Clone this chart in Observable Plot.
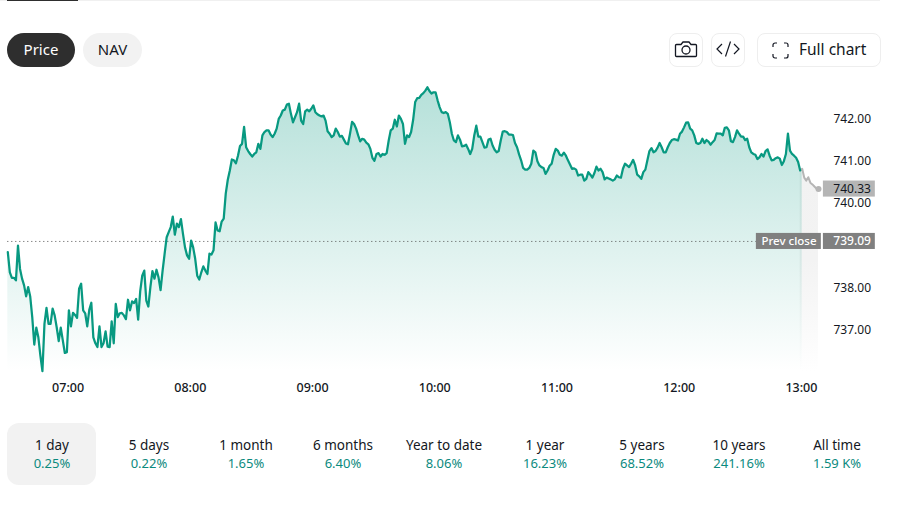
<!DOCTYPE html>
<html>
<head>
<meta charset="utf-8">
<script src="https://cdn.jsdelivr.net/npm/d3@7"></script>
<script src="https://cdn.jsdelivr.net/npm/@observablehq/plot@0.6"></script>
<style>
html,body{margin:0;padding:0;background:#fff;width:900px;height:510px;overflow:hidden}
body{position:relative;font-family:"Noto Sans",sans-serif;color:#131722}
#chart{position:absolute;left:0;top:70px}
#chart svg{display:block}
.abs{position:absolute;box-sizing:border-box}
.pill{top:33px;height:34px;border-radius:17px;display:flex;align-items:center;justify-content:center;font-size:15px;padding-bottom:2px}
.btn{top:33px;height:34px;border:1px solid #eeeeee;border-radius:8px;display:flex;align-items:center;justify-content:center;font-size:15.5px;padding-bottom:2px}
.cell{top:436px;width:110px;text-align:center;font-size:13.5px;line-height:18px}
.cell .ret{color:#0b8a7e;font-size:13px}
</style>
</head>
<body>
<div class="abs" style="left:0;top:0;width:880px;height:1px;background:#f0f0f0"></div>
<div class="abs" style="left:7px;top:0;width:71px;height:1px;background:#2e2e2e"></div>
<div class="abs pill" style="left:7px;width:68px;background:#2e2e2e;color:#fff">Price</div>
<div class="abs pill" style="left:83px;width:59px;background:#f2f2f2">NAV</div>
<div class="abs btn" style="left:669px;width:34px"><svg width="24" height="20" viewBox="0 0 24 20" fill="none" stroke="#131722" stroke-width="1.3"><path d="M2.5 5.5h4.5l2-2.5h6l2 2.5h4.5a1 1 0 0 1 1 1v10a1 1 0 0 1-1 1h-19a1 1 0 0 1-1-1v-10a1 1 0 0 1 1-1z"/><circle cx="12" cy="11" r="4"/></svg></div>
<div class="abs btn" style="left:711px;width:34px"><svg width="26" height="20" viewBox="0 0 26 20" fill="none" stroke="#131722" stroke-width="1.2"><path d="M7 5l-5 5 5 5M19 5l5 5-5 5M15.5 2.5l-5 15"/></svg></div>
<div class="abs btn" style="left:757px;width:124px"><svg style="position:absolute;left:14px;top:8px" width="17" height="17" viewBox="0 0 17 17" fill="none" stroke="#131722" stroke-width="1.2"><path d="M1 5V3a2 2 0 0 1 2-2h2M12 1h2a2 2 0 0 1 2 2v2M16 12v2a2 2 0 0 1-2 2h-2M5 16H3a2 2 0 0 1-2-2v-2"/></svg><span style="position:absolute;left:41px">Full chart</span></div>
<div class="abs" style="left:7px;top:423px;width:89px;height:62px;background:#f2f2f2;border-radius:12px"></div>
<div id="chart"></div>
<div id="periods"></div>
<script>
const periods = ["1 day","5 days","1 month","6 months","Year to date","1 year","5 years","10 years","All time"];
const returns = ["0.25%","0.22%","1.65%","6.40%","8.06%","16.23%","68.52%","241.16%","1.59 K%"];
const periodCenters = [52,149,246,343,444,545,642,739,837];
const hourLabels = ["07:00","08:00","09:00","10:00","11:00","12:00","13:00"];
const priceTicks = [737,738,740,741,742];
const prevClose = 739.09;
const lastPrice = 740.33;
// one price per minute from 06:30
const prices = [
738.84,738.36,738.23,738.23,738.17,738.99,738.44,738.21,738.05,737.79,738.01,737.79,737.30,736.65,737.05,736.82,736.39,736.02,737.14,737.52,
737.14,737.14,737.50,737.34,737.06,736.73,737.05,736.75,736.45,736.47,737.46,737.08,737.40,737.35,737.28,737.97,738.09,737.46,737.39,737.08,
737.47,737.64,736.82,736.68,736.59,737.08,736.59,736.68,736.96,736.60,736.59,737.20,736.68,737.61,737.30,737.39,737.40,737.34,737.25,737.71,
737.46,737.67,737.63,737.73,737.24,737.91,738.28,738.40,737.69,737.55,738.01,738.39,738.21,738.42,738.24,737.94,738.40,738.80,739.19,739.31,
739.43,739.68,739.25,739.51,739.43,739.62,739.27,738.95,738.76,738.68,739.11,738.95,738.68,738.28,738.19,738.36,738.50,738.40,738.32,738.80,
738.78,738.88,739.54,739.35,739.33,739.56,739.63,740.22,740.55,740.77,741.03,741.01,740.94,741.12,741.35,741.40,741.80,741.32,741.23,741.16,
741.10,741.16,741.20,741.40,741.28,741.60,741.68,741.72,741.72,741.62,741.56,741.64,741.76,741.99,742.07,742.19,742.21,742.33,742.35,742.11,
741.91,742.03,742.15,742.35,741.95,741.87,742.17,742.21,742.17,742.23,742.31,742.15,742.10,742.07,742.05,742.07,741.95,741.70,741.64,741.56,
741.60,741.76,741.68,741.57,741.59,741.50,741.41,741.39,741.64,741.92,741.87,741.76,741.60,741.46,741.52,741.50,741.43,741.39,741.28,741.07,
741.00,741.16,741.18,741.10,741.16,741.14,741.18,741.48,741.72,741.76,741.97,741.81,742.07,741.99,741.87,741.40,741.60,741.56,741.68,741.97,
742.39,742.48,742.49,742.56,742.60,742.66,742.74,742.65,742.59,742.62,742.62,742.43,742.27,742.15,742.13,742.15,742.11,741.91,741.64,741.48,
741.44,741.60,741.50,741.34,741.35,741.38,741.28,741.16,741.28,741.60,741.83,741.57,741.57,741.44,741.31,741.32,741.50,741.52,741.36,741.26,
741.20,741.23,741.48,741.69,741.70,741.68,741.62,741.62,741.61,741.42,741.32,741.15,741.01,740.83,740.79,740.79,740.83,740.93,741.24,741.20,
740.99,740.89,740.85,740.83,740.69,740.77,740.88,740.93,741.14,741.28,741.24,741.14,741.12,741.19,741.12,741.01,740.91,740.81,740.82,740.79,
740.65,740.67,740.67,740.53,740.57,740.73,740.67,740.60,740.71,740.86,740.77,740.81,740.73,740.56,740.60,740.58,740.56,740.53,740.56,740.65,
740.61,740.60,740.81,740.93,740.89,740.85,740.93,741.02,740.89,740.67,740.63,740.57,740.73,740.79,741.01,741.23,741.30,741.20,741.23,741.31,
741.42,741.32,741.20,741.20,741.32,741.42,741.49,741.51,741.50,741.48,741.64,741.69,741.79,741.90,741.91,741.76,741.72,741.60,741.42,741.40,
741.42,741.52,741.42,741.49,741.45,741.38,741.44,741.49,741.65,741.64,741.64,741.60,741.78,741.79,741.72,741.46,741.44,741.56,741.72,741.64,
741.57,741.57,741.49,741.52,741.32,741.20,741.16,741.14,741.04,741.08,741.16,741.10,741.23,741.27,741.12,741.01,741.02,741.06,741.08,741.05,
740.90,740.99,741.16,741.64,741.24,741.16,741.12,741.07,740.97,740.77
];
// after-hours prices following the close
const extended = [740.77,740.81,740.60,740.53,740.61,740.48,740.44,740.39,740.34,740.33];

const open = Date.UTC(2024,0,2,6,30);
const at = m => new Date(open + m*60000);
const session = prices.map((p,i)=>({t:at(i),p}));
const post = extended.map((p,i)=>({t:at(prices.length-1+i),p}));
const sessionArea = session.concat(post.slice(1,2));
const hourDates = hourLabels.map(s=>{const [h,m]=s.split(":").map(Number);return new Date(Date.UTC(2024,0,2,h,m));});

const defs = () => {
  const d = d3.create("svg:defs");
  const g = d.append("linearGradient").attr("id","ga").attr("x1",0).attr("y1",0).attr("x2",0).attr("y2",1);
  g.append("stop").attr("offset",0).attr("stop-color","#089981").attr("stop-opacity",0.3);
  g.append("stop").attr("offset",1).attr("stop-color","#089981").attr("stop-opacity",0);
  const h = d.append("linearGradient").attr("id","gb").attr("x1",0).attr("y1",0).attr("x2",0).attr("y2",1);
  h.append("stop").attr("offset",0).attr("stop-color","#f2f2f2");
  h.append("stop").attr("offset",0.45).attr("stop-color","#f3f3f3");
  h.append("stop").attr("offset",1).attr("stop-color","#f2f2f2").attr("stop-opacity",0);
  return d.node();
};
const floor = 736;
const boxBand = 0.19;
const font = "Noto Sans";
const plot = Plot.plot({
  width:900,height:340,
  marginLeft:7.3,marginRight:82,marginTop:5.75,marginBottom:38.5,
  style:{background:"transparent",fontFamily:font,overflow:"visible"},
  x:{type:"utc",domain:[at(0),at(398)]},
  y:{domain:[736,743]},
  marks:[
    defs,
    Plot.areaY(post,{x:"t",y1:floor,y2:"p",fill:"url(#gb)"}),
    Plot.areaY(sessionArea,{x:"t",y1:floor,y2:"p",fill:"url(#ga)"}),
    Plot.ruleY([prevClose],{x1:at(0),x2:at(367.5),stroke:"#555",strokeWidth:1,strokeDasharray:"1,3"}),
    Plot.axisX({ticks:hourDates,tickFormat:d3.utcFormat("%H:%M"),tickSize:0,tickPadding:11.5,label:null,fontSize:12.5,fontWeight:500,dx:-0.8,fill:"#131722"}),
    Plot.axisY({anchor:"right",ticks:priceTicks,tickFormat:d3.format(".2f"),tickSize:0,tickPadding:15,label:null,fontSize:12,dy:0.5,fill:"#131722"}),
    Plot.line(post,{x:"t",y:"p",stroke:"#b5b5b5",strokeWidth:2}),
    Plot.dot(post.slice(-1),{x:"t",y:"p",r:3,fill:"#b5b5b5"}),
    Plot.line(session,{x:"t",y:"p",stroke:"#089981",strokeWidth:2.25}),
    Plot.rect([lastPrice],{x1:at(400.4),x2:at(425.9),y1:d=>d-boxBand,y2:d=>d+boxBand,fill:"#b5b5b5"}),
    Plot.text([lastPrice],{x:at(405.3),y:d=>d,text:d=>d3.format(".2f")(d),textAnchor:"start",fontSize:12,fill:"#131722"}),
    Plot.rect([prevClose],{x1:at(367.5),x2:at(399.4),y1:d=>d-boxBand,y2:d=>d+boxBand,fill:"#808080"}),
    Plot.rect([prevClose],{x1:at(400.4),x2:at(425.9),y1:d=>d-boxBand,y2:d=>d+boxBand,fill:"#808080"}),
    Plot.text(["Prev close"],{x:at(383.5),y:()=>prevClose,text:d=>d,fontSize:11.5,fontWeight:500,fill:"#fff"}),
    Plot.text([prevClose],{x:at(405.3),y:d=>d,text:d=>d3.format(".2f")(d),textAnchor:"start",fontSize:12,fontWeight:500,fill:"#fff"})
  ]
});
document.getElementById("chart").append(plot);
const host = document.getElementById("periods");
periods.forEach((p,i)=>{
  const c = document.createElement("div");
  c.className="abs cell";
  c.style.left=(periodCenters[i]-55)+"px";
  c.innerHTML=`<div>${p}</div><div class="ret">${returns[i]}</div>`;
  host.append(c);
});
</script>
</body>
</html>
